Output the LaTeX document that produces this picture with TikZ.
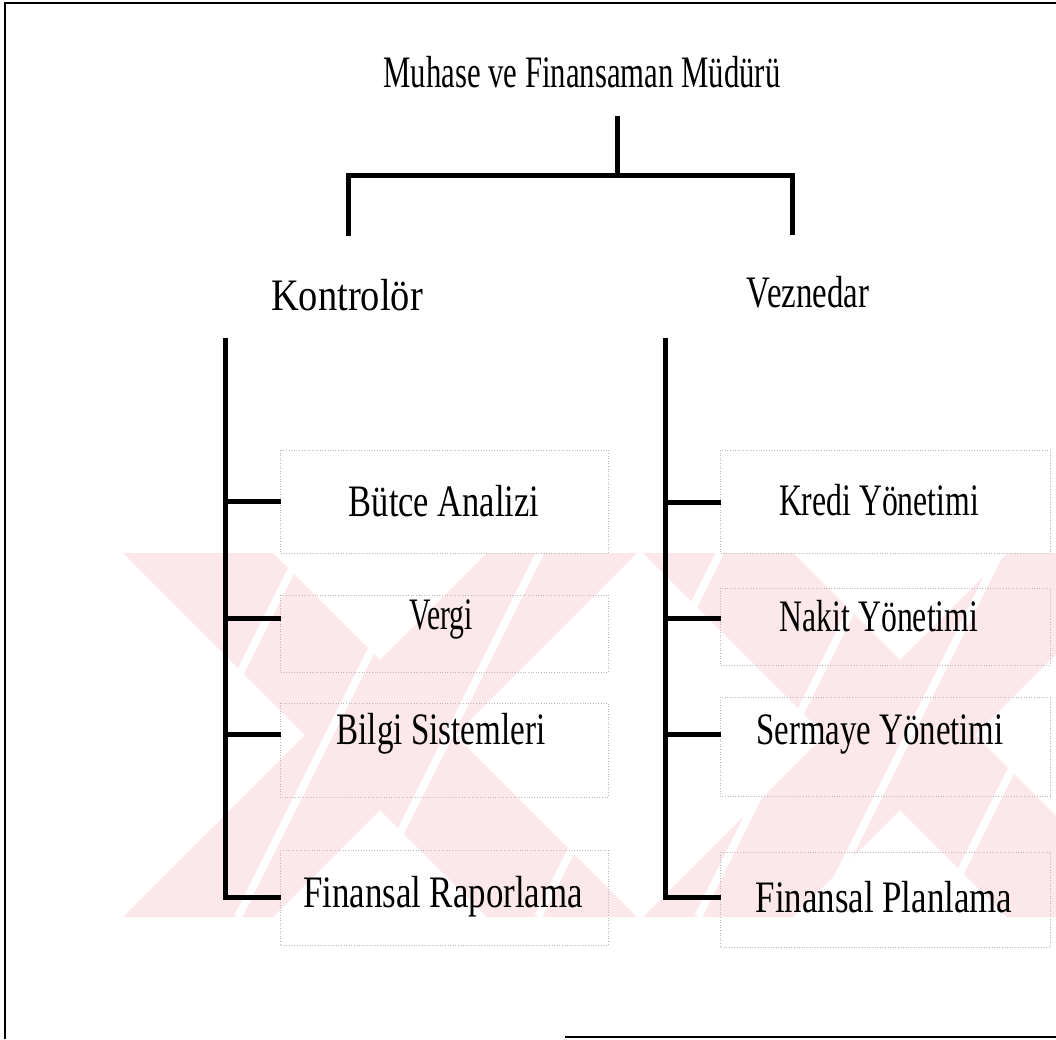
\documentclass[tikz,border=0pt]{standalone}
\usepackage{fontspec}
\usepackage{graphicx}
\setmainfont{Liberation Serif}
\definecolor{wm}{RGB}{252,231,235}
\definecolor{boxgray}{RGB}{185,185,185}
\newcommand{\lbl}[2]{\scalebox{#1}[1]{#2}}
\tikzset{
  conn/.style={line width=5pt, line join=miter, line cap=rect},
  txt/.style={inner sep=0pt, font=\fontsize{45}{50}\selectfont},
  ghost/.style={draw=boxgray, dotted, line width=0.6pt},
  frame/.style={line width=2.5pt},
  slit/.style={white, line width=8pt}
}
\begin{document}
\begin{tikzpicture}[x=1pt,y=-1pt]
\useasboundingbox (0,0) rectangle (1056,1039);
\fill[white] (0,0) rectangle (1056,1039);
% watermark: two hatched X shapes
\begin{scope}
\clip (100,553) rectangle (1056,917);
\fill[wm] (123,553) -- (273,553) -- (637,917) -- (487,917) -- cycle;
\fill[wm] (487,553) -- (637,553) -- (273,917) -- (123,917) -- cycle;
\fill[wm] (643,553) -- (793,553) -- (1157,917) -- (1007,917) -- cycle;
\fill[wm] (1007,553) -- (1157,553) -- (793,917) -- (643,917) -- cycle;
\foreach \x in {300,420,540,720,880,1000,1120}
  \draw[slit] (\x,553) -- (\x-182,917);
\end{scope}
% frame
\draw[frame] (5,1039) -- (5,3) -- (1056,3);
\draw[frame] (565,1037) -- (1056,1037);
% ghost boxes
\draw[ghost] (280,450) rectangle (608,553);
\draw[ghost] (280,595) rectangle (608,672);
\draw[ghost] (280,703) rectangle (608,797);
\draw[ghost] (280,850) rectangle (608,945);
\draw[ghost] (720,450) rectangle (1050,553);
\draw[ghost] (720,588) rectangle (1050,665);
\draw[ghost] (720,697) rectangle (1050,796);
\draw[ghost] (720,852) rectangle (1050,947);
% nodes
\node[txt] (mgr) at (582,72) {\lbl{0.683}{Muhase ve Finansaman Müdürü}};
\node[txt] (kon) at (347,295) {\lbl{0.855}{Kontrolör}};
\node[txt] (vez) at (808,292) {\lbl{0.73}{Veznedar}};
\node[txt] (b1) at (444,501) {\lbl{0.765}{Bütce Analizi}};
\node[txt] (b2) at (441,619) {\lbl{0.66}{Vergi}};
\node[txt] (b3) at (441,734) {\lbl{0.735}{Bilgi Sistemleri}};
\node[txt] (b4) at (443,897) {\lbl{0.775}{Finansal Raporlama}};
\node[txt] (c1) at (879,500) {\lbl{0.705}{Kredi Yönetimi}};
\node[txt] (c2) at (879,616) {\lbl{0.705}{Nakit Yönetimi}};
\node[txt] (c3) at (880,734) {\lbl{0.73}{Sermaye Yönetimi}};
\node[txt] (c4) at (884,897) {\lbl{0.775}{Finansal Planlama}};
% coordinates
\coordinate (s0) at (617,118);
\coordinate (s1) at (617,175);
\coordinate (kl) at (348,175);
\coordinate (kd) at (348,233);
\coordinate (vr) at (792,175);
\coordinate (vd) at (792,232);
\coordinate (kt) at (225,340);
\coordinate (vt) at (665,340);
% connectors
\draw[conn] (s0) -- (s1);
\draw[conn] (kd) -- (kl) -- (vr) -- (vd);
\draw[conn] (kt) -- (225,897) -- (278,897);
\draw[conn] (225,501) -- (278,501);
\draw[conn] (225,618) -- (278,618);
\draw[conn] (225,734) -- (278,734);
\draw[conn] (vt) -- (665,897) -- (718,897);
\draw[conn] (665,502) -- (718,502);
\draw[conn] (665,618) -- (718,618);
\draw[conn] (665,734) -- (718,734);
\end{tikzpicture}
\end{document}
